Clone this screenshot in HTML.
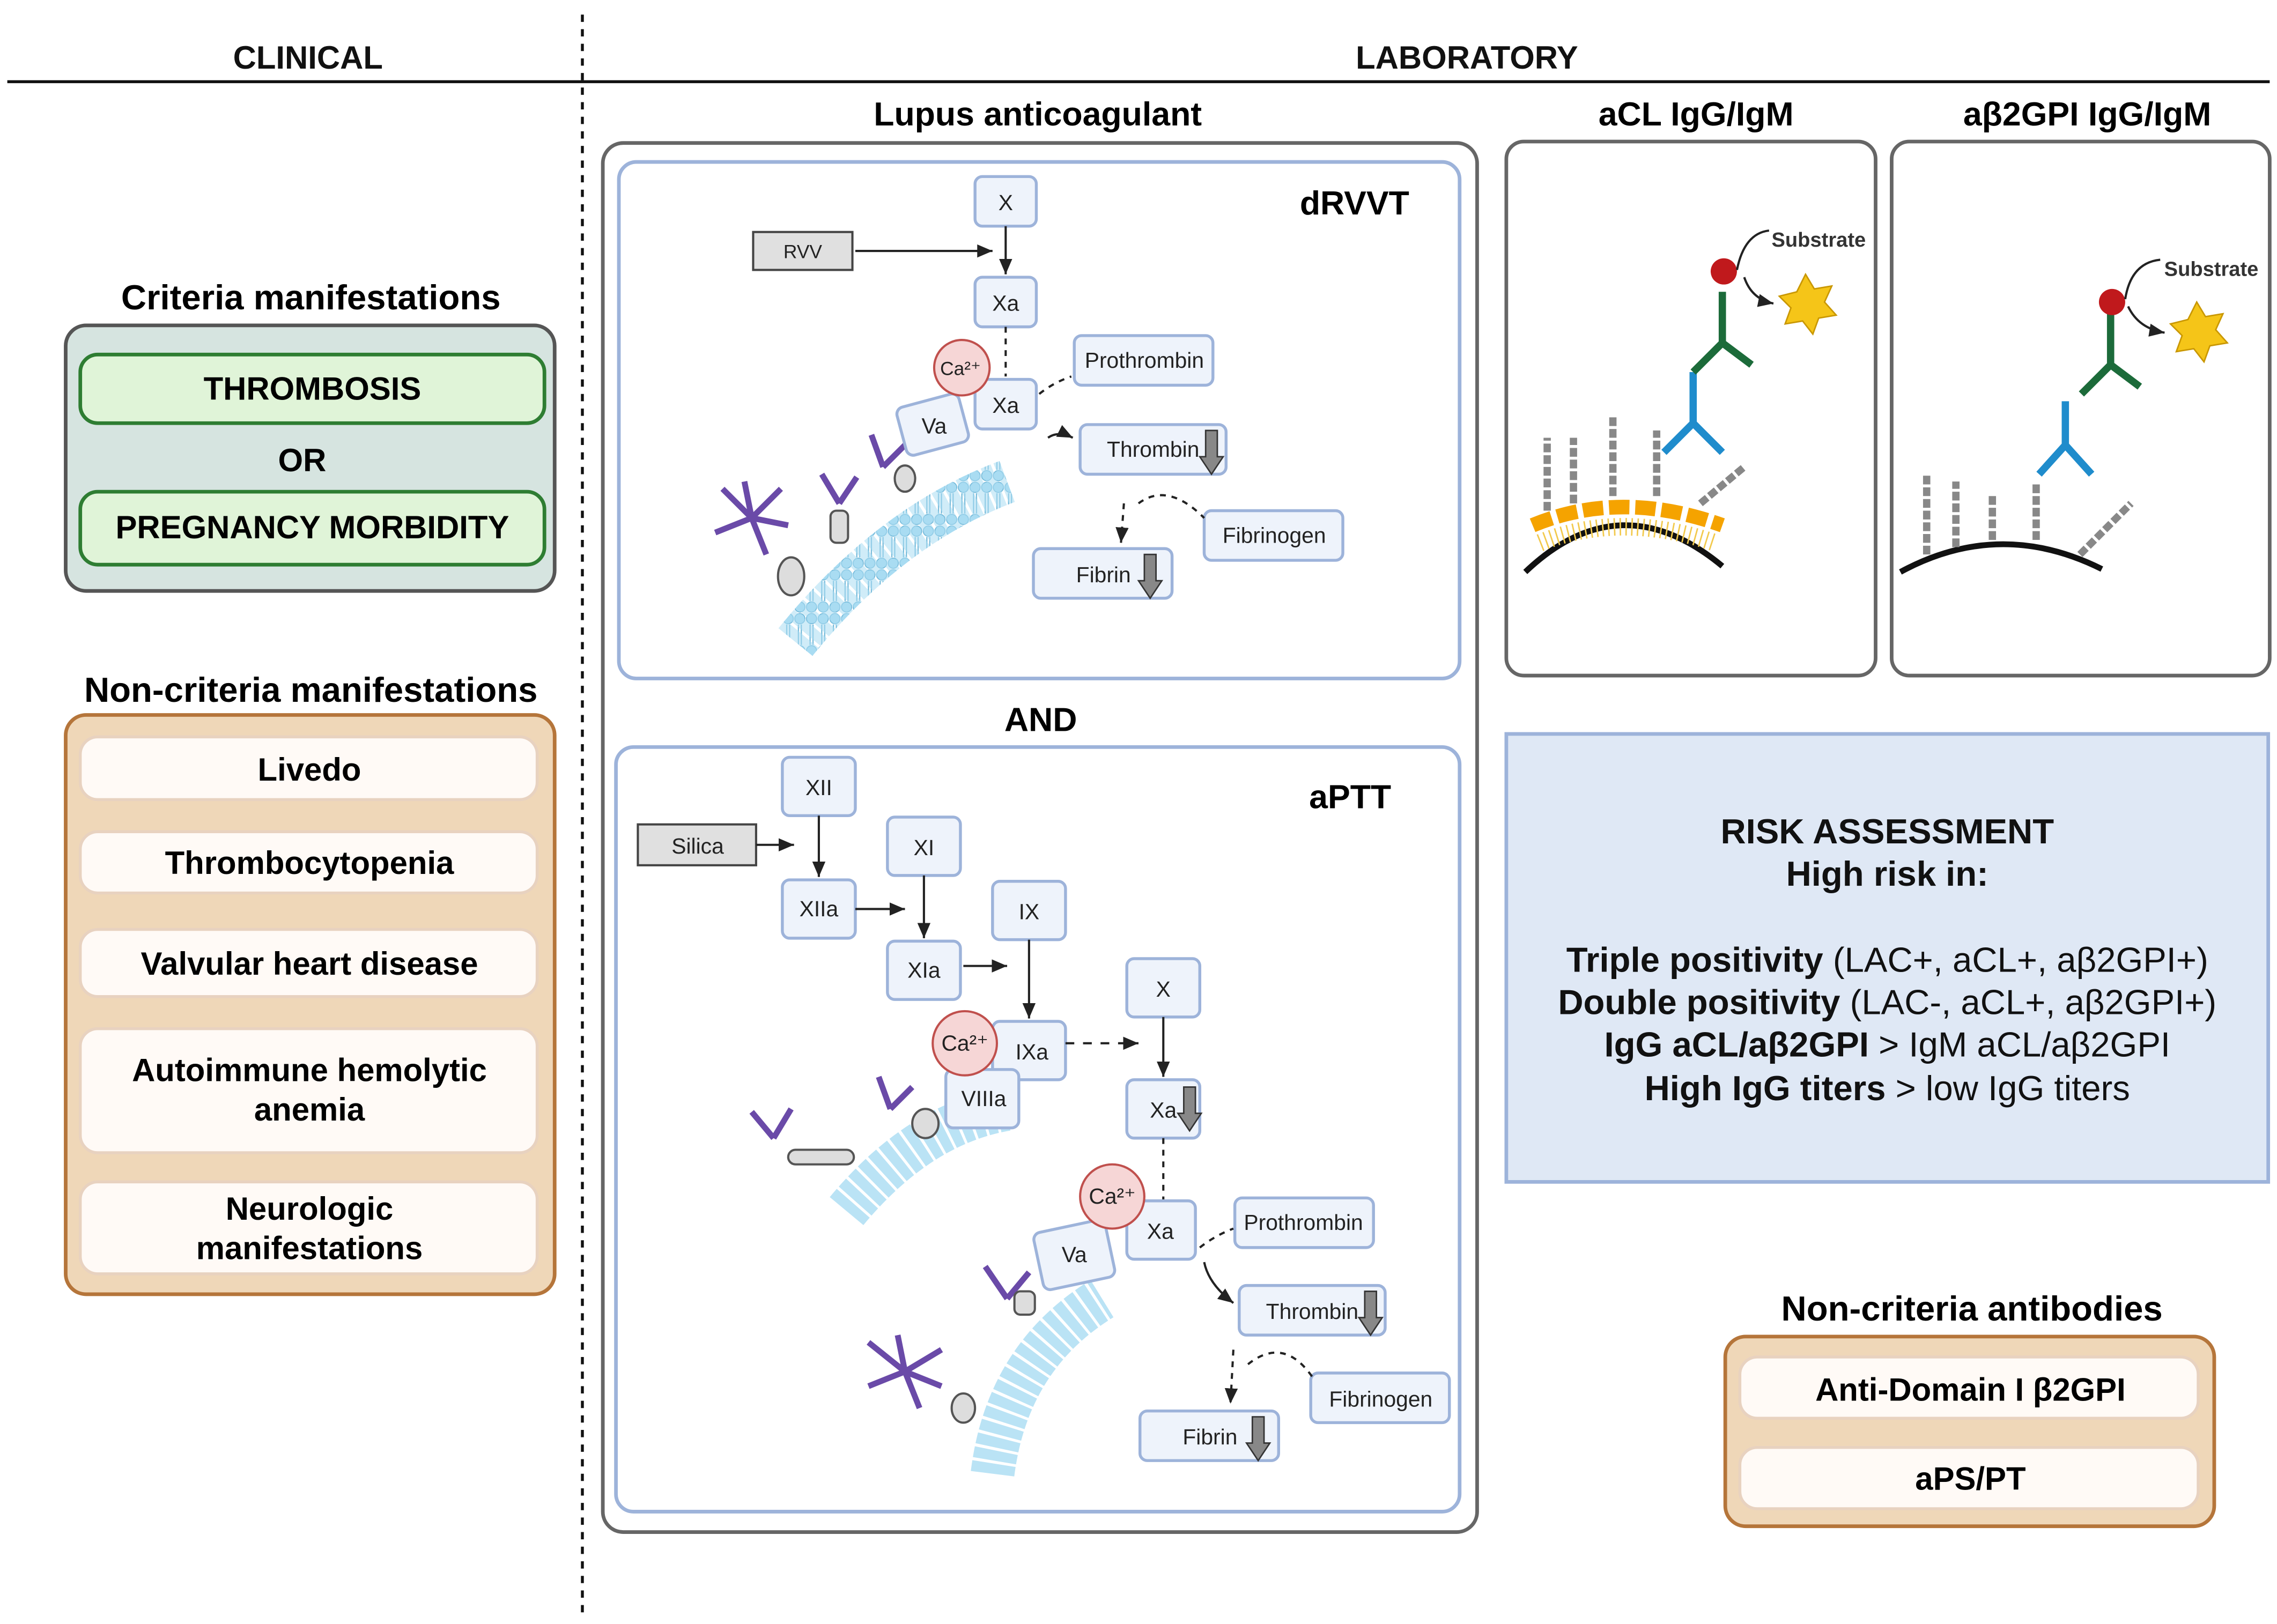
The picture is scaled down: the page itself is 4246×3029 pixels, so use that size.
<!DOCTYPE html>
<html><head><meta charset="utf-8"><style>
html,body{margin:0;padding:0;background:#fff;}
svg{display:block;}
text{font-family:"Liberation Sans",sans-serif;}
</style></head><body>
<svg width="4246" height="3029" viewBox="0 0 1560 1113" preserveAspectRatio="none" xmlns="http://www.w3.org/2000/svg">
<defs>
<marker id="ar" markerWidth="8" markerHeight="8" refX="7" refY="4" orient="auto"><path d="M0,1 L7,4 L0,7 z" fill="#222"/></marker>
<pattern id="mem" width="8" height="30" patternUnits="userSpaceOnUse"><circle cx="4" cy="4" r="3.5" fill="#a9dcf2" stroke="#6fb7d8" stroke-width=".6"/><circle cx="4" cy="26" r="3.5" fill="#a9dcf2" stroke="#6fb7d8" stroke-width=".6"/><line x1="3" y1="8" x2="3" y2="22" stroke="#6fb7d8" stroke-width=".8"/><line x1="5" y1="8" x2="5" y2="22" stroke="#6fb7d8" stroke-width=".8"/></pattern>
</defs>
<g font-weight="bold" fill="#111">
<text x="211" y="47" font-size="22" text-anchor="middle">CLINICAL</text>
<text x="1005" y="47" font-size="22" text-anchor="middle">LABORATORY</text>
</g>
<line x1="5" y1="56" x2="1555" y2="56" stroke="#111" stroke-width="2"/>
<line x1="399" y1="10" x2="399" y2="1110" stroke="#111" stroke-width="2" stroke-dasharray="5,5"/>

<!-- clinical -->
<text x="213" y="212" font-size="24" font-weight="bold" text-anchor="middle">Criteria manifestations</text>
<rect x="45" y="223" width="335" height="182" rx="14" fill="#d6e4e0" stroke="#555" stroke-width="2.5"/>
<rect x="55" y="243" width="318" height="47" rx="12" fill="#e0f4d8" stroke="#2e7d32" stroke-width="2.5"/>
<text x="214" y="274" font-size="22" font-weight="bold" text-anchor="middle">THROMBOSIS</text>
<text x="207" y="323" font-size="22" font-weight="bold" text-anchor="middle">OR</text>
<rect x="55" y="337" width="318" height="50" rx="12" fill="#e0f4d8" stroke="#2e7d32" stroke-width="2.5"/>
<text x="214" y="369" font-size="22" font-weight="bold" text-anchor="middle">PREGNANCY MORBIDITY</text>

<text x="213" y="481" font-size="24" font-weight="bold" text-anchor="middle">Non-criteria manifestations</text>
<rect x="45" y="490" width="335" height="397" rx="14" fill="#efd7b8" stroke="#b5753a" stroke-width="2.5"/>
<g fill="#fffaf6" stroke="#e8d2c0" stroke-width="2">
<rect x="55" y="505" width="313" height="43" rx="12"/>
<rect x="55" y="570" width="313" height="42" rx="12"/>
<rect x="55" y="637" width="313" height="46" rx="12"/>
<rect x="55" y="705" width="313" height="85" rx="12"/>
<rect x="55" y="810" width="313" height="63" rx="12"/>
</g>
<g font-size="22" font-weight="bold" text-anchor="middle">
<text x="212" y="535">Livedo</text>
<text x="212" y="599">Thrombocytopenia</text>
<text x="212" y="668">Valvular heart disease</text>
<text x="212" y="741">Autoimmune hemolytic</text>
<text x="212" y="768">anemia</text>
<text x="212" y="836">Neurologic</text>
<text x="212" y="863">manifestations</text>
</g>

<!-- Lupus -->
<text x="711" y="86" font-size="23" font-weight="bold" text-anchor="middle">Lupus anticoagulant</text>
<rect x="413" y="98" width="599" height="952" rx="14" fill="#fff" stroke="#666" stroke-width="2.5"/>
<rect x="424" y="111" width="576" height="354" rx="12" fill="#fff" stroke="#9db3da" stroke-width="2.5"/>
<text x="928" y="147" font-size="23" font-weight="bold" text-anchor="middle">dRVVT</text>
<text x="713" y="501" font-size="23" font-weight="bold" text-anchor="middle">AND</text>
<rect x="422" y="512" width="578" height="524" rx="12" fill="#fff" stroke="#9db3da" stroke-width="2.5"/>
<text x="925" y="554" font-size="23" font-weight="bold" text-anchor="middle">aPTT</text>

<!-- membranes -->
<path d="M545,440 Q610,360 690,330" fill="none" stroke="url(#mem)" stroke-width="30"/>
<path d="M545,440 Q610,360 690,330" fill="none" stroke="#a9dcf2" stroke-width="30" stroke-dasharray="7,2" opacity=".55"/>
<path d="M580,830 Q630,770 690,760" fill="none" stroke="#a9dcf2" stroke-width="30" stroke-dasharray="7,2" opacity=".8"/>
<path d="M680,1010 Q690,930 755,890" fill="none" stroke="#a9dcf2" stroke-width="30" stroke-dasharray="7,2" opacity=".8"/>

<!-- antibodies (purple) -->
<g stroke="#6a4aa8" stroke-width="4" fill="none">
<path d="M515,355 l-20,-20 M515,355 l20,-20 M515,355 l-25,10 M515,355 l10,25 M515,355 l-5,-25 M515,355 l25,5"/>
<path d="M575,345 l-12,-20 M575,345 l12,-18 M605,320 l-8,-22 M605,320 l15,-15"/>
<path d="M530,780 l-15,-18 M530,780 l12,-20 M610,760 l-8,-22 M610,760 l15,-15"/>
<path d="M620,940 l-25,-20 M620,940 l25,-15 M620,940 l-25,10 M620,940 l10,25 M620,940 l-5,-25 M620,940 l25,10"/>
<path d="M690,890 l-15,-22 M690,890 l15,-18"/>
</g>
<g fill="#ddd" stroke="#555" stroke-width="1.5">
<ellipse cx="542" cy="395" rx="9" ry="13"/><rect x="569" y="350" width="12" height="22" rx="4"/><ellipse cx="620" cy="328" rx="7" ry="9"/>
<ellipse cx="634" cy="770" rx="9" ry="10"/><ellipse cx="660" cy="965" rx="8" ry="10"/><rect x="695" y="885" width="14" height="16" rx="4"/>
<rect x="540" y="788" width="45" height="10" rx="5"/>
</g>

<!-- pathway boxes -->
<g fill="#eef3fb" stroke="#9db3da" stroke-width="2">
<rect x="668" y="121" width="42" height="34" rx="5"/>
<rect x="668" y="190" width="42" height="34" rx="5"/>
<rect x="668" y="260" width="42" height="34" rx="5"/>
<rect x="617" y="274" width="44" height="34" rx="5" transform="rotate(-15 639 291)"/>
<rect x="736" y="230" width="95" height="34" rx="5"/>
<rect x="740" y="291" width="100" height="34" rx="5"/>
<rect x="825" y="350" width="95" height="34" rx="5"/>
<rect x="708" y="376" width="95" height="34" rx="5"/>
<rect x="536" y="519" width="50" height="40" rx="5"/>
<rect x="536" y="603" width="50" height="40" rx="5"/>
<rect x="608" y="560" width="50" height="40" rx="5"/>
<rect x="608" y="645" width="50" height="40" rx="5"/>
<rect x="680" y="604" width="50" height="40" rx="5"/>
<rect x="680" y="700" width="50" height="40" rx="5"/>
<rect x="648" y="733" width="50" height="40" rx="5"/>
<rect x="772" y="657" width="50" height="40" rx="5"/>
<rect x="772" y="740" width="50" height="40" rx="5"/>
<rect x="772" y="823" width="47" height="40" rx="5"/>
<rect x="711" y="840" width="50" height="40" rx="5" transform="rotate(-12 736 860)"/>
<rect x="846" y="821" width="95" height="34" rx="5"/>
<rect x="849" y="881" width="100" height="34" rx="5"/>
<rect x="898" y="941" width="95" height="34" rx="5"/>
<rect x="781" y="967" width="95" height="34" rx="5"/>
</g>
<g fill="#e0e0e0" stroke="#444" stroke-width="1.5">
<rect x="516" y="159" width="68" height="26"/>
<rect x="437" y="565" width="81" height="28"/>
</g>
<g fill="#f6d6d6" stroke="#c0504d" stroke-width="1.5">
<circle cx="659" cy="252" r="19"/><circle cx="661" cy="715" r="22"/><circle cx="762" cy="820" r="22"/>
</g>
<g font-size="15" text-anchor="middle" fill="#222">
<text x="689" y="144">X</text><text x="689" y="213">Xa</text><text x="689" y="283">Xa</text>
<text x="640" y="297">Va</text><text x="784" y="252">Prothrombin</text><text x="790" y="313">Thrombin</text>
<text x="873" y="372">Fibrinogen</text><text x="756" y="399">Fibrin</text>
<text x="550" y="177" font-size="13">RVV</text><text x="478" y="585">Silica</text>
<text x="658" y="257" font-size="13">Ca²⁺</text><text x="661" y="720">Ca²⁺</text><text x="762" y="825">Ca²⁺</text>
<text x="561" y="545">XII</text><text x="561" y="628">XIIa</text><text x="633" y="586">XI</text><text x="633" y="670">XIa</text>
<text x="705" y="630">IX</text><text x="707" y="726">IXa</text><text x="674" y="758">VIIIa</text>
<text x="797" y="683">X</text><text x="797" y="766">Xa</text><text x="795" y="849">Xa</text><text x="736" y="865">Va</text>
<text x="893" y="843">Prothrombin</text><text x="899" y="904">Thrombin</text><text x="946" y="964">Fibrinogen</text><text x="829" y="990">Fibrin</text>
</g>
<g fill="#888" stroke="#333" stroke-width="1">
<path d="M826,295 h8 v18 h4 l-8,12 l-8,-12 h4z"/><path d="M784,380 h8 v18 h4 l-8,12 l-8,-12 h4z"/>
<path d="M811,745 h8 v18 h4 l-8,12 l-8,-12 h4z"/><path d="M935,885 h8 v18 h4 l-8,12 l-8,-12 h4z"/><path d="M858,971 h8 v18 h4 l-8,12 l-8,-12 h4z"/>
</g>
<g stroke="#222" stroke-width="1.5" fill="none" marker-end="url(#ar)">
<line x1="689" y1="155" x2="689" y2="188"/><line x1="586" y1="172" x2="680" y2="172"/>
<path d="M718,300 Q725,295 735,300"/><path d="M770,345 L768,372" stroke-dasharray="4,4"/>
<line x1="561" y1="559" x2="561" y2="601"/><line x1="518" y1="579" x2="544" y2="579"/>
<line x1="586" y1="623" x2="620" y2="623"/><line x1="633" y1="600" x2="633" y2="643"/>
<line x1="660" y1="662" x2="690" y2="662"/><line x1="705" y1="644" x2="705" y2="698"/>
<line x1="730" y1="715" x2="780" y2="715" stroke-dasharray="6,6"/><line x1="797" y1="697" x2="797" y2="738"/>
<path d="M825,865 Q828,880 845,893"/><path d="M845,925 L843,962" stroke-dasharray="4,4"/>
</g>
<g stroke="#222" stroke-width="1.5" fill="none" stroke-dasharray="4,4">
<line x1="689" y1="224" x2="689" y2="258"/><line x1="797" y1="780" x2="797" y2="822"/>
<path d="M712,270 Q722,262 734,258"/><path d="M780,345 Q800,330 825,355"/>
<path d="M822,855 Q832,847 845,842"/><path d="M855,935 Q880,915 900,945"/>
</g>

<!-- aCL / ab2GPI -->
<text x="1162" y="86" font-size="23" font-weight="bold" text-anchor="middle">aCL IgG/IgM</text>
<text x="1430" y="86" font-size="23" font-weight="bold" text-anchor="middle">aβ2GPI IgG/IgM</text>
<rect x="1032" y="97" width="253" height="366" rx="12" fill="#fff" stroke="#666" stroke-width="2.5"/>
<rect x="1296" y="97" width="259" height="366" rx="12" fill="#fff" stroke="#666" stroke-width="2.5"/>
<path d="M1045,392 Q1110,330 1180,388" fill="none" stroke="#111" stroke-width="4"/>
<path d="M1050,360 Q1110,335 1180,360" fill="none" stroke="#f5a300" stroke-width="10" stroke-dasharray="14,4"/>
<path d="M1055,372 Q1110,350 1175,372" fill="none" stroke="#f2c94c" stroke-width="12" stroke-dasharray="1,3"/>
<path d="M1302,392 Q1370,355 1440,390" fill="none" stroke="#111" stroke-width="4"/>
<g stroke="#888" stroke-width="5" fill="none" stroke-dasharray="6,2">
<path d="M1060,350 v-50"/><path d="M1078,345 v-45"/><path d="M1105,340 v-55"/><path d="M1135,340 v-45"/><path d="M1165,345 l30,-25"/>
<path d="M1320,380 v-55"/><path d="M1340,375 v-45"/><path d="M1365,370 v-30"/><path d="M1395,370 v-40"/><path d="M1425,380 l35,-35"/>
</g>
<g stroke="#1f8ccc" stroke-width="5" fill="none"><path d="M1160,255 v35 M1160,290 l-20,20 M1160,290 l20,20"/><path d="M1415,275 v30 M1415,305 l-18,20 M1415,305 l18,20"/></g>
<g stroke="#1c6b3a" stroke-width="5" fill="none"><path d="M1180,200 v35 M1180,235 l-20,20 M1180,235 l20,15"/><path d="M1446,215 v35 M1446,250 l-20,20 M1446,250 l20,15"/></g>
<circle cx="1181" cy="186" r="9" fill="#c0191c"/><circle cx="1447" cy="207" r="9" fill="#c0191c"/>
<path d="M1190,185 Q1195,160 1212,158" fill="none" stroke="#222" stroke-width="1.5"/><path d="M1195,190 Q1200,205 1215,208" fill="none" stroke="#222" stroke-width="1.5" marker-end="url(#ar)"/>
<path d="M1456,205 Q1460,180 1480,178" fill="none" stroke="#222" stroke-width="1.5"/><path d="M1458,210 Q1465,225 1483,228" fill="none" stroke="#222" stroke-width="1.5" marker-end="url(#ar)"/>
<polygon points="1237,188 1243,198 1255,196 1250,207 1258,216 1246,218 1242,229 1235,220 1223,222 1227,211 1219,203 1231,200" fill="#f5c518" stroke="#c99700"/>
<polygon points="1505,207 1511,217 1523,215 1518,226 1526,235 1514,237 1510,248 1503,239 1491,241 1495,230 1487,222 1499,219" fill="#f5c518" stroke="#c99700"/>
<text x="1246" y="169" font-size="14" font-weight="bold" fill="#333" text-anchor="middle">Substrate</text>
<text x="1515" y="189" font-size="14" font-weight="bold" fill="#333" text-anchor="middle">Substrate</text>

<!-- risk -->
<rect x="1032" y="503" width="522" height="307" fill="#dfe8f5" stroke="#9db3da" stroke-width="2.5"/>
<g font-size="24" text-anchor="middle" fill="#111">
<text x="1293" y="578" font-weight="bold">RISK ASSESSMENT</text>
<text x="1293" y="607" font-weight="bold">High risk in:</text>
<text x="1293" y="666"><tspan font-weight="bold">Triple positivity</tspan> (LAC+, aCL+, aβ2GPI+)</text>
<text x="1293" y="695"><tspan font-weight="bold">Double positivity</tspan> (LAC-, aCL+, aβ2GPI+)</text>
<text x="1293" y="724"><tspan font-weight="bold">IgG aCL/aβ2GPI</tspan> &gt; IgM aCL/aβ2GPI</text>
<text x="1293" y="754"><tspan font-weight="bold">High IgG titers</tspan> &gt; low IgG titers</text>
</g>

<text x="1351" y="905" font-size="24" font-weight="bold" text-anchor="middle">Non-criteria antibodies</text>
<rect x="1182" y="916" width="335" height="130" rx="14" fill="#efd7b8" stroke="#b5753a" stroke-width="2.5"/>
<rect x="1192" y="930" width="314" height="42" rx="12" fill="#fffaf6" stroke="#e8d2c0" stroke-width="2"/>
<rect x="1192" y="992" width="314" height="42" rx="12" fill="#fffaf6" stroke="#e8d2c0" stroke-width="2"/>
<text x="1350" y="960" font-size="22" font-weight="bold" text-anchor="middle">Anti-Domain I β2GPI</text>
<text x="1350" y="1021" font-size="22" font-weight="bold" text-anchor="middle">aPS/PT</text>
</svg>
</body></html>
